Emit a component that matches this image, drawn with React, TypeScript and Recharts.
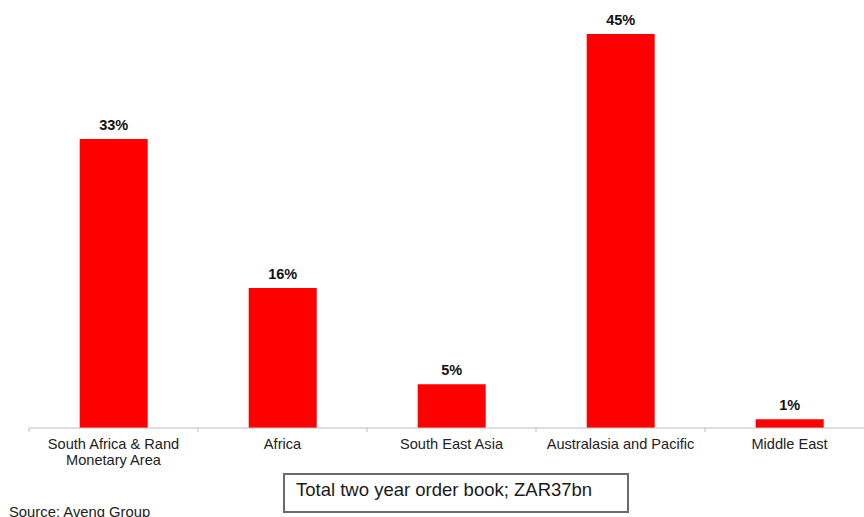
import { BarChart, Bar, XAxis, YAxis, LabelList, Text } from 'recharts'

const regions = [
  'South Africa & Rand Monetary Area',
  'Africa',
  'South East Asia',
  'Australasia and Pacific',
  'Middle East',
]
const shares = [33, 16, 5, 45, 1]

const data = regions.map((region, i) => ({ region, share: shares[i] }))

const FONT = 'Arial, "Liberation Sans", sans-serif'
const CHART_W = 874
const MARGIN = { top: 34, right: 0, left: 29, bottom: 0 }
const BAND = (CHART_W - MARGIN.left - MARGIN.right) / regions.length

// category label with the tick mark drawn at the left edge of each band
function RegionTick(props: any) {
  const { x, y, payload } = props
  const edge = x - BAND / 2
  return (
    <g>
      <line x1={edge} y1={y - 8} x2={edge} y2={y - 4} stroke="#bfbfbf" strokeWidth={1} />
      <Text
        x={x}
        y={y + 3}
        width={175}
        textAnchor="middle"
        verticalAnchor="start"
        lineHeight={16}
        fontSize={14.6}
        fontFamily={FONT}
        fill="#222"
      >
        {payload.value}
      </Text>
    </g>
  )
}

export default function App() {
  return (
    <div style={{ position: 'absolute', left: 0, top: 0, width: 864, height: 517, overflow: 'hidden', background: '#fff' }}>
      <BarChart width={CHART_W} height={517} data={data} margin={MARGIN} barCategoryGap="30%">
        <XAxis
          dataKey="region"
          interval={0}
          axisLine={{ stroke: '#bfbfbf', strokeWidth: 1 }}
          tickLine={false}
          tick={<RegionTick />}
          height={89}
        />
        <YAxis hide domain={[0, 45]} />
        <Bar dataKey="share" fill="#ff0000" isAnimationActive={false}>
          <LabelList
            dataKey="share"
            position="top"
            offset={9}
            formatter={(v: any) => `${v}%`}
            style={{ fontFamily: FONT, fontSize: 14.5, fontWeight: 'bold', fill: '#111' }}
          />
        </Bar>
      </BarChart>
      <div
        style={{
          position: 'absolute',
          left: 283,
          top: 473,
          width: 331,
          height: 36,
          border: '2px solid #6b6b6b',
          fontFamily: FONT,
          fontSize: 18.5,
          color: '#1a1a1a',
          paddingLeft: 11,
          lineHeight: '30px',
          boxSizing: 'content-box',
        }}
      >
        Total two year order book; ZAR37bn
      </div>
      <div style={{ position: 'absolute', left: 9, top: 504, fontFamily: FONT, fontSize: 14.8, color: '#222' }}>
        Source: Aveng Group
      </div>
    </div>
  )
}
